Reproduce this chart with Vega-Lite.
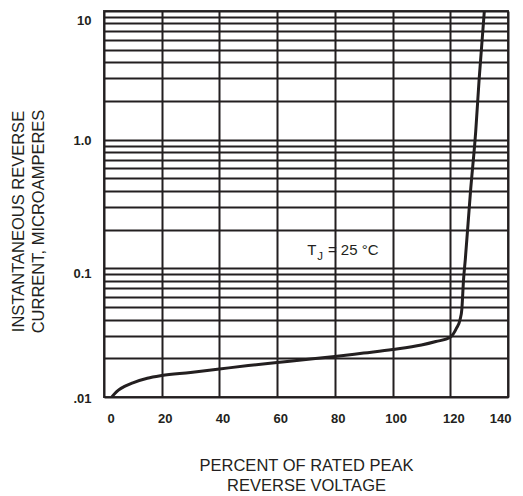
{
  "$schema": "https://vega.github.io/schema/vega-lite/v6.json",
  "width": 404,
  "height": 386,
  "autosize": "none",
  "padding": {"left": 104, "top": 11, "right": 15, "bottom": 99},
  "background": "white",
  "config": {
    "view": {"stroke": "#3c3a3b", "strokeWidth": 2},
    "font": "Liberation Sans"
  },
  "datasets": {
    "curve": [
      {"x": 2.7, "y": 0.0100},
      {"x": 3.6, "y": 0.01055},
      {"x": 5, "y": 0.0113},
      {"x": 7.5, "y": 0.0122},
      {"x": 10, "y": 0.0129},
      {"x": 15, "y": 0.0140},
      {"x": 20, "y": 0.01469},
      {"x": 30, "y": 0.0155},
      {"x": 40, "y": 0.0165},
      {"x": 50, "y": 0.01756},
      {"x": 60, "y": 0.01853},
      {"x": 70, "y": 0.01955},
      {"x": 80, "y": 0.02063},
      {"x": 90, "y": 0.02196},
      {"x": 100, "y": 0.02338},
      {"x": 110, "y": 0.02533},
      {"x": 115, "y": 0.02697},
      {"x": 120, "y": 0.02913},
      {"x": 122.2, "y": 0.0344},
      {"x": 123.4, "y": 0.040},
      {"x": 124.0, "y": 0.048},
      {"x": 124.6, "y": 0.082},
      {"x": 125.2, "y": 0.117},
      {"x": 127, "y": 0.394},
      {"x": 128.8, "y": 1.15},
      {"x": 130, "y": 2.95},
      {"x": 131.8, "y": 10}
    ],
    "main": [
      {"label": "T", "x": 70.4, "y": 0.138},
      {"label": "=  25 °C", "x": 77.6, "y": 0.138}
    ],
    "sub": [
      {"label": "J", "x": 73.9, "y": 0.1215}
    ]
  },
  "layer": [
    {
      "data": {"name": "curve"},
      "mark": {"type": "line", "color": "#231f20", "strokeWidth": 3, "interpolate": "monotone", "clip": true},
      "encoding": {
        "x": {
          "field": "x", "type": "quantitative",
          "scale": {"domain": [0, 140], "nice": false, "zero": false},
          "axis": {
            "values": [0, 20, 40, 60, 80, 100, 120, 140],
            "grid": true, "gridColor": "#231f20", "gridWidth": 2, "gridOpacity": 1,
            "domain": false, "ticks": false,
            "labelFont": "Liberation Sans", "labelFontWeight": "bold", "labelFontSize": 13,
            "labelColor": "#231f20", "labelPadding": 15, "labelOverlap": false, "labelOffset": 3,
            "title": ["PERCENT OF RATED PEAK", "REVERSE VOLTAGE"],
            "titleFont": "Liberation Sans", "titleFontWeight": "normal", "titleFontSize": 16.5,
            "titleColor": "#231f20", "titleLineHeight": 20,
            "titleBaseline": "top", "titleY": 60
          }
        },
        "y": {
          "field": "y", "type": "quantitative",
          "scale": {"type": "log", "domain": [0.01, 10], "nice": false},
          "axis": {
            "values": [0.01, 0.02, 0.03, 0.04, 0.05, 0.06, 0.07, 0.08, 0.09, 0.1, 0.2, 0.3, 0.4, 0.5, 0.6, 0.7, 0.8, 0.9, 1, 2, 3, 4, 5, 6, 7, 8, 9, 10],
            "labelExpr": "datum.value == 10 ? '10' : datum.value == 1 ? '1.0' : datum.value == 0.1 ? '0.1' : datum.value == 0.01 ? '.01' : ''",
            "labelOffset": {"condition": [{"test": "datum.value == 10", "value": 9}, {"test": "datum.value == 0.1", "value": 5}], "value": 1},
            "grid": true, "gridColor": "#231f20", "gridWidth": 2, "gridOpacity": 1,
            "domain": false, "ticks": false,
            "labelFont": "Liberation Sans", "labelFontWeight": "bold", "labelFontSize": 13,
            "labelColor": "#231f20", "labelPadding": 13, "labelOverlap": false, "labelBound": false,
            "title": ["INSTANTANEOUS REVERSE", "CURRENT, MICROAMPERES"],
            "titleFont": "Liberation Sans", "titleFontWeight": "normal", "titleFontSize": 16.5,
            "titleColor": "#231f20", "titleLineHeight": 20,
            "titleBaseline": "bottom", "titleX": -78, "titleY": 210
          }
        }
      }
    },
    {
      "data": {"name": "main"},
      "mark": {"type": "text", "align": "left", "baseline": "middle", "fontSize": 15, "color": "#231f20", "font": "Liberation Sans"},
      "encoding": {
        "x": {"field": "x", "type": "quantitative"},
        "y": {"field": "y", "type": "quantitative"},
        "text": {"field": "label"}
      }
    },
    {
      "data": {"name": "sub"},
      "mark": {"type": "text", "align": "left", "baseline": "middle", "fontSize": 11.5, "color": "#231f20", "font": "Liberation Sans"},
      "encoding": {
        "x": {"field": "x", "type": "quantitative"},
        "y": {"field": "y", "type": "quantitative"},
        "text": {"field": "label"}
      }
    }
  ]
}
